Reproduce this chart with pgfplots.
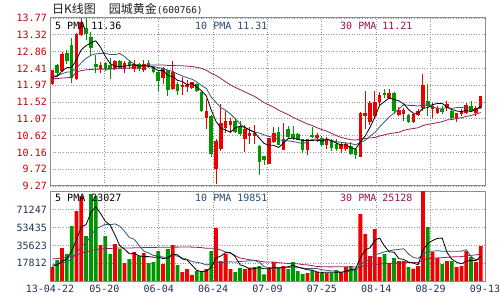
\documentclass[border=0pt]{standalone}
\usepackage{pgfplots}
\pgfplotsset{compat=1.18}
\usepackage{pgfplotstable}
\usepackage{fontspec}
\setmainfont{DejaVu Sans Mono}
\newfontfamily\cjk{Noto Sans CJK SC}
\definecolor{cred}{RGB}{240,0,0}
\definecolor{cgreen}{RGB}{0,150,0}
\definecolor{cma10}{RGB}{52,88,120}
\definecolor{cma30}{RGB}{150,30,90}
\definecolor{cframe}{RGB}{140,140,140}
\definecolor{cgrid}{RGB}{150,150,150}
\definecolor{cplab}{RGB}{200,0,0}
\definecolor{cvlab}{RGB}{35,50,85}
\definecolor{ctitle}{RGB}{30,30,30}
\definecolor{c10txt}{RGB}{40,75,110}
\definecolor{c30txt}{RGB}{150,20,80}

\pgfplotstableread{
x u o h l c v m5 m10 m30 v5 v10 v30
0 1 12.01 12.38 11.98 12.36 14000 12.18 12.22 12.14 14800 16000 22000
1 0 12.50 12.53 12.22 12.31 21000 12.21 12.22 12.15 16000 17000 22500
2 1 12.36 12.85 12.33 12.79 33000 12.35 12.28 12.16 19600 18000 23000
3 0 12.82 12.90 12.55 12.63 27000 12.44 12.32 12.17 22000 19000 23500
4 0 13.04 13.23 12.04 12.17 55000 12.45 12.33 12.18 30000 22000 24500
5 1 12.14 13.36 12.10 13.33 70000 12.65 12.42 12.33 41200 28000 26000
6 1 13.31 13.77 13.28 13.66 85000 12.92 12.57 12.36 54000 35000 28000
7 0 13.50 13.77 13.17 13.36 45000 13.03 12.69 12.38 56400 38000 29000
8 0 13.26 13.40 12.75 12.98 87000 13.10 12.77 12.39 68400 45200 30500
9 0 12.52 12.77 12.31 12.47 85000 13.16 12.81 12.40 74400 52200 31500
10 1 12.41 12.60 12.31 12.50 36000 12.99 12.82 12.40 67600 54400 32000
11 0 12.55 12.60 12.36 12.41 45000 12.74 12.83 12.40 59600 56800 32500
12 0 12.50 12.69 12.14 12.41 27000 12.55 12.79 12.40 56000 56200 32500
13 1 12.41 12.65 12.38 12.60 37000 12.48 12.79 12.41 46000 57200 33000
14 0 12.60 12.65 12.40 12.44 32000 12.47 12.82 12.41 35400 54900 33000
15 1 12.41 12.62 12.30 12.55 18000 12.48 12.74 12.42 31800 49700 33000
16 0 12.59 12.65 12.40 12.50 22000 12.50 12.62 12.43 27200 43400 33000
17 1 12.41 12.65 12.33 12.52 29000 12.52 12.54 12.45 27600 41800 33200
18 0 12.52 12.57 12.36 12.40 25000 12.48 12.48 12.47 25200 35600 33300
19 1 12.38 12.64 12.33 12.52 28000 12.50 12.49 12.50 24400 29900 33400
20 0 12.57 12.65 12.42 12.46 18000 12.48 12.48 12.51 24400 28100 33500
21 0 12.45 12.47 12.30 12.32 19000 12.44 12.47 12.51 23800 25500 33600
22 0 12.32 12.34 11.82 12.09 30000 12.36 12.44 12.51 24000 25800 33700
23 1 12.18 12.45 12.00 12.41 17000 12.36 12.42 12.51 22400 23800 33800
24 0 12.36 12.38 11.68 11.85 32000 12.23 12.37 12.50 23200 23800 33800
25 1 11.87 12.63 11.85 12.31 36000 12.20 12.34 12.50 26800 25600 33900
26 0 12.00 12.05 11.70 11.82 16000 12.10 12.27 12.49 26200 25000 33900
27 1 11.93 12.20 11.70 11.96 9000 12.07 12.22 12.49 22000 23000 34000
28 1 11.93 12.12 11.80 11.98 12000 11.98 12.17 12.48 21000 21700 34000
29 1 11.91 12.06 11.88 12.04 6000 12.02 12.13 12.47 15800 19500 33900
30 0 12.00 12.02 11.80 11.82 10000 11.92 12.06 12.45 10600 18700 33700
31 0 11.77 11.80 11.25 11.28 10000 11.82 11.96 12.42 9400 17800 33400
32 1 11.09 11.60 10.79 11.28 12000 11.68 11.88 12.37 10000 16000 32700
33 0 11.14 11.16 10.05 10.14 30000 11.31 11.65 12.29 13600 17300 32800
34 1 9.73 10.54 9.33 10.46 53000 11.00 11.51 12.23 23000 19400 32700
35 1 10.27 11.47 10.20 10.95 20000 10.82 11.37 12.15 25000 17800 31000
36 1 10.82 11.28 10.68 11.00 27000 10.77 11.30 12.06 28400 18900 29100
37 1 10.90 11.08 10.70 11.00 12000 10.71 11.20 11.98 28400 19200 28000
38 0 11.00 11.08 10.68 10.73 9000 10.83 11.07 11.91 24200 18900 25400
39 0 10.87 11.00 10.60 10.68 13000 10.87 10.94 11.85 16200 19600 23000
40 1 10.55 10.90 10.18 10.79 12000 10.84 10.83 11.79 14600 19800 22200
41 1 10.63 10.85 10.40 10.67 13500 10.77 10.77 11.73 11900 20200 21200
42 1 10.63 10.90 10.40 10.67 14000 10.71 10.71 11.67 12300 20400 20700
43 0 10.33 10.36 9.57 9.92 15000 10.55 10.69 11.59 13500 18900 20000
44 0 10.06 10.06 9.82 9.98 6700 10.41 10.64 11.50 12200 14200 19100
45 1 9.87 10.56 9.85 10.54 12500 10.36 10.60 11.44 12300 13500 19000
46 1 10.46 10.84 10.42 10.68 19000 10.36 10.57 11.38 13400 12700 18900
47 0 10.71 10.84 10.38 10.38 13500 10.30 10.51 11.30 13300 12800 18300
48 1 10.25 10.95 10.25 10.52 15000 10.42 10.49 11.24 13300 13400 18000
49 0 10.79 10.87 10.55 10.60 12000 10.54 10.48 11.18 14400 13300 17500
50 0 10.65 10.87 10.50 10.57 19000 10.55 10.46 11.11 15700 14000 17500
51 0 10.65 10.68 10.50 10.52 10000 10.52 10.44 11.05 13900 13700 17200
52 0 10.52 10.54 10.16 10.25 7000 10.49 10.40 10.99 12600 13000 16400
53 1 10.25 10.54 10.11 10.52 8000 10.49 10.46 10.93 11200 12300 16100
54 0 10.63 10.84 10.55 10.59 11000 10.49 10.52 10.89 11000 12700 15400
55 1 10.56 10.70 10.44 10.63 9000 10.50 10.53 10.83 9000 12400 14500
56 0 10.54 10.60 10.33 10.38 8000 10.47 10.50 10.78 8600 11300 14300
57 1 10.38 10.57 10.25 10.52 8000 10.53 10.51 10.74 8800 10700 14200
58 0 10.46 10.54 10.20 10.30 8000 10.48 10.49 10.68 8800 10000 14100
59 0 10.38 10.52 10.20 10.27 11000 10.42 10.46 10.62 8800 9900 14300
60 1 10.27 10.44 10.16 10.38 8000 10.37 10.44 10.57 8600 8800 14200
61 1 10.27 10.44 10.20 10.38 14000 10.37 10.42 10.54 9800 9200 14300
62 0 10.33 10.44 10.10 10.14 15000 10.29 10.41 10.51 11200 10000 14400
63 0 10.25 10.30 10.00 10.11 12500 10.26 10.37 10.50 12100 10500 13900
64 1 10.06 11.24 10.04 11.22 67000 10.45 10.44 10.53 23300 16100 14300
65 1 11.14 11.82 10.79 11.22 47000 10.61 10.49 10.54 31100 19900 15200
66 1 11.00 11.55 10.90 11.49 25000 10.84 10.61 10.56 33300 21600 15200
67 1 11.14 11.82 11.10 11.52 52000 11.11 10.70 10.57 40700 26000 16500
68 1 11.52 11.80 11.45 11.71 24000 11.43 10.85 10.61 43000 27600 17000
69 0 11.74 11.87 11.63 11.71 27000 11.53 10.99 10.64 35000 29200 17500
70 1 11.63 11.87 11.60 11.74 18000 11.63 11.12 10.67 29200 30200 17700
71 0 11.76 11.78 11.19 11.28 23000 11.59 11.22 10.69 28800 31100 18000
72 1 11.19 11.39 11.14 11.30 20000 11.55 11.33 10.71 22400 31600 18200
73 1 11.22 11.36 11.00 11.30 20000 11.47 11.45 10.76 21600 32300 18300
74 0 11.17 11.20 10.95 11.00 14000 11.32 11.43 10.79 19000 27000 18600
75 1 11.00 11.22 10.95 11.20 12500 11.22 11.43 10.81 17900 23600 18600
76 1 11.19 11.33 11.14 11.28 15000 11.22 11.41 10.83 16300 22600 18500
77 1 11.36 12.28 11.28 11.96 92000 11.35 11.45 10.89 30700 26600 21100
78 0 11.55 12.01 11.14 11.41 54000 11.37 11.42 10.92 37500 29600 22400
79 1 11.33 11.50 11.10 11.41 29000 11.45 11.39 10.94 40500 29800 22900
80 1 11.22 11.41 11.19 11.36 23000 11.48 11.35 10.97 42600 30300 23100
81 0 11.33 11.41 11.19 11.25 17000 11.48 11.35 10.99 43000 29700 23300
82 1 11.36 11.55 11.28 11.47 20000 11.38 11.37 11.04 28600 29700 23700
83 0 11.28 11.33 11.05 11.09 20000 11.32 11.35 11.05 21800 29700 24100
84 1 11.06 11.22 10.98 11.22 14000 11.28 11.37 11.08 18800 29700 24200
85 1 11.20 11.33 11.15 11.28 15000 11.26 11.37 11.10 17200 29900 24400
86 1 11.22 11.49 11.19 11.44 30000 11.30 11.39 11.13 19800 31400 25200
87 0 11.41 11.55 11.25 11.28 24000 11.26 11.32 11.16 20600 24600 25700
88 1 11.22 11.41 11.14 11.36 19000 11.32 11.32 11.19 20400 21100 26100
89 1 11.36 11.68 11.33 11.68 35000 11.41 11.35 11.24 24600 21700 26900
}\data

\pgfplotsset{
  panel/.style={scale only axis, width=435bp, xmin=-0.5, xmax=89.9,
    axis line style={draw=cframe, line width=1bp},
    xmajorgrids, ymajorgrids,
    major grid style={draw=cgrid, line width=0.8bp, dash pattern=on 1bp off 1.6bp},
    major tick length=0pt,
    xtick={-0.5,10.8,22.1,33.4,44.7,56.0,67.3,78.6,89.9},
    ticklabel style={font=\fontsize{10bp}{12bp}\selectfont, inner sep=0pt},
    yticklabel style={anchor=east, xshift=-3bp},
    clip=true,
  },
  candle/.style 2 args={mark=none, draw=none, forget plot,
    error bars/.cd, y dir=both, y explicit, error mark=none,
    error bar style={draw=#1, solid, line width=#2}},
}

\begin{document}
\begin{tikzpicture}
\path[use as bounding box] (0,0) rectangle (500bp,300bp);

% price panel
\begin{axis}[panel, at={(50bp,114bp)}, anchor=south west, height=168bp,
  ymin=9.27, ymax=13.77,
  ytick={9.27,9.72,10.17,10.62,11.07,11.52,11.97,12.42,12.87,13.32,13.77},
  yticklabels={9.27,9.72,10.16,10.62,11.07,11.52,11.97,12.41,12.86,13.32,13.77},
  yticklabel style={text=cplab},
  xticklabels={},
]
% wicks (u=1 rising red, u=0 falling green; the other colour's rows are moved out of range)
\addplot[candle={cred}{1bp}] table[x expr={\thisrow{x}+1000*(1-\thisrow{u})}, y expr={(\thisrow{h}+\thisrow{l})/2}, y error expr={(\thisrow{h}-\thisrow{l})/2}]{\data};
\addplot[candle={cgreen}{1bp}] table[x expr={\thisrow{x}+1000*\thisrow{u}}, y expr={(\thisrow{h}+\thisrow{l})/2}, y error expr={(\thisrow{h}-\thisrow{l})/2}]{\data};
% bodies
\addplot[candle={cred}{3.6bp}] table[x expr={\thisrow{x}+1000*(1-\thisrow{u})}, y expr={(\thisrow{o}+\thisrow{c})/2}, y error expr={abs(\thisrow{c}-\thisrow{o})/2+0.008}]{\data};
\addplot[candle={cgreen}{3.6bp}] table[x expr={\thisrow{x}+1000*\thisrow{u}}, y expr={(\thisrow{o}+\thisrow{c})/2}, y error expr={abs(\thisrow{c}-\thisrow{o})/2+0.008}]{\data};
% moving averages
\addplot[cma30, line width=0.8bp, mark=none] table[x=x, y=m30]{\data};
\addplot[cma10, line width=0.8bp, mark=none] table[x=x, y=m10]{\data};
\addplot[black, line width=0.8bp, mark=none] table[x=x, y=m5]{\data};
\end{axis}

% volume panel
\begin{axis}[panel, at={(50bp,19bp)}, anchor=south west, height=89bp,
  ymin=0, ymax=89058.75,
  ytick={17811.75,35623.5,53435.25,71247},
  yticklabels={17812,35623,53435,71247},
  scaled y ticks=false,
  yticklabel style={text=cvlab},
  xticklabel style={text=cvlab, anchor=north, yshift=-4bp},
  xticklabels={13-04-22,05-20,06-04,06-24,07-09,07-25,08-14,08-29,09-13},
]
\addplot[ybar, bar width=3.8bp, bar shift=0pt, fill=cred, draw=none] table[x expr={\thisrow{x}+1000*(1-\thisrow{u})}, y=v]{\data};
\addplot[ybar, bar width=3.8bp, bar shift=0pt, fill=cgreen, draw=none] table[x expr={\thisrow{x}+1000*\thisrow{u}}, y=v]{\data};
\addplot[cma30, line width=0.8bp, mark=none] table[x=x, y=v30]{\data};
\addplot[cma10, line width=0.8bp, mark=none] table[x=x, y=v10]{\data};
\addplot[black, line width=0.8bp, mark=none] table[x=x, y=v5]{\data};
\end{axis}

% title and legends
\node[anchor=base west, inner sep=0, text=ctitle] at (52bp,286.5bp)
  {\cjk\fontsize{12bp}{14bp}\selectfont 日K线图\hspace{13bp}园城黄金{\rmfamily\fontsize{9.5bp}{12bp}\selectfont(600766)}};
\begin{scope}[every node/.style={anchor=base west, inner sep=0, font=\fontsize{10bp}{12bp}\selectfont}]
\node[text=black] at (55bp,270.7bp) {5 PMA 11.36};
\node[text=c10txt] at (195bp,270.7bp) {10 PMA 11.31};
\node[text=c30txt] at (340bp,270.7bp) {30 PMA 11.21};
\node[text=black] at (55bp,98.3bp) {5 PMA 23027};
\node[text=c10txt] at (195bp,98.3bp) {10 PMA 19851};
\node[text=c30txt] at (340bp,98.3bp) {30 PMA 25128};
\end{scope}
\end{tikzpicture}
\end{document}
